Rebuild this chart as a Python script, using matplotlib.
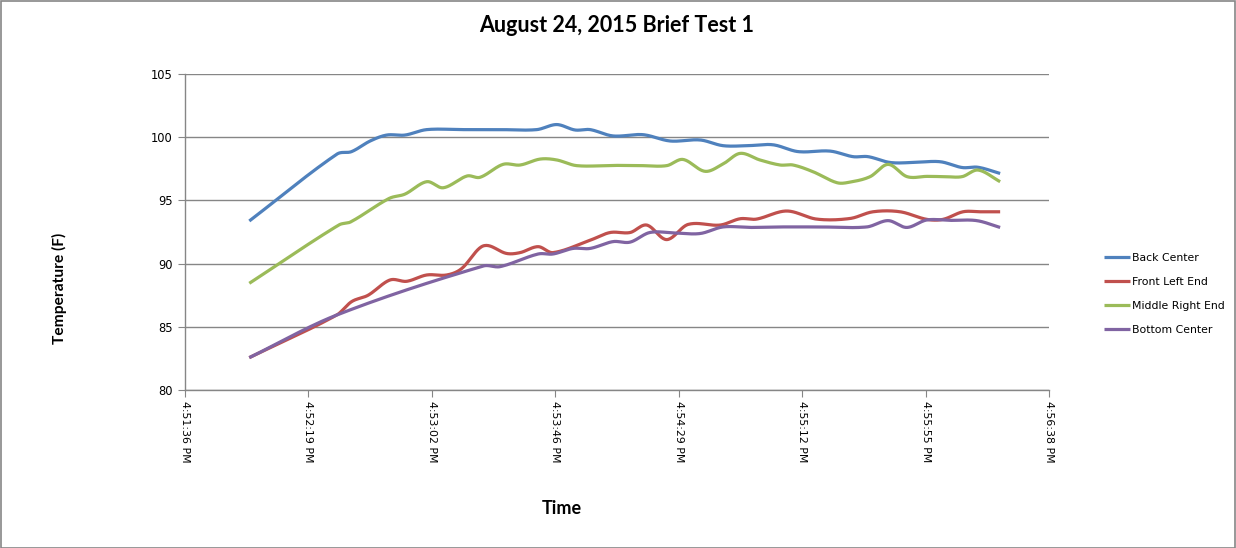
import numpy as np
import matplotlib
matplotlib.use("Agg")
import matplotlib.pyplot as plt
from matplotlib.patches import Rectangle

# times are seconds after 4:51:36 PM, temperatures in F
back_t = [22.5, 53.1, 58.3, 64.8, 70.6, 77.0, 84.6, 97.0, 110.3, 123.1, 130.1, 136.5, 141.8,
          149.8, 160.3, 169.8, 180.3, 188.3, 197.0, 205.8, 214.6, 225.8, 233.8, 239.1,
          246.8, 255.0, 264.3, 272.0, 277.6, 285.3]
back_v = [93.37, 98.65, 98.86, 99.70, 100.17, 100.17, 100.60, 100.60, 100.60, 100.60, 101.00,
          100.57, 100.60, 100.10, 100.20, 99.70, 99.78, 99.33, 99.33, 99.40, 98.86, 98.90,
          98.46, 98.46, 98.00, 98.00, 98.06, 97.60, 97.62, 97.13]

front_t = [22.5, 53.1, 58.3, 64.1, 71.7, 77.6, 84.6, 91.6, 96.8, 104.4, 112.6, 117.3, 123.6,
           128.8, 141.8, 148.8, 155.8, 161.6, 168.6, 176.1, 187.3, 194.3, 200.0, 210.6,
           221.1, 232.8, 240.8, 250.3, 259.6, 265.3, 272.3, 278.3, 285.3]
front_v = [82.56, 85.93, 86.99, 87.50, 88.70, 88.60, 89.10, 89.10, 89.60, 91.40, 90.80, 90.87,
           91.34, 90.87, 91.85, 92.46, 92.46, 93.05, 91.90, 93.10, 93.05, 93.55, 93.52, 94.16,
           93.52, 93.57, 94.10, 94.10, 93.50, 93.50, 94.10, 94.10, 94.10]

middle_t = [22.5, 53.8, 58.0, 71.4, 77.0, 84.6, 90.4, 98.7, 103.3, 111.3, 117.3, 124.3, 130.1,
            137.1, 150.0, 160.0, 168.6, 174.3, 182.0, 188.3, 194.3, 201.2, 208.3, 212.8,
            219.8, 228.2, 232.8, 239.8, 246.1, 252.7, 259.7, 266.0, 272.0, 277.6, 285.3]
middle_v = [88.44, 93.05, 93.30, 95.15, 95.50, 96.48, 96.00, 96.93, 96.83, 97.85, 97.80, 98.27,
            98.20, 97.75, 97.77, 97.75, 97.75, 98.24, 97.30, 97.88, 98.72, 98.20, 97.80, 97.80,
            97.27, 96.40, 96.45, 96.88, 97.85, 96.88, 96.90, 96.88, 96.88, 97.40, 96.48]

bottom_t = [22.5, 53.1, 104.4, 110.3, 123.6, 128.8, 135.8, 141.8, 149.8, 155.8, 162.7, 171.5,
            180.3, 188.3, 197.8, 208.3, 222.3, 238.6, 246.1, 252.6, 259.6, 267.8, 277.1, 285.3]
bottom_v = [82.56, 85.93, 89.81, 89.76, 90.76, 90.76, 91.20, 91.20, 91.74, 91.70, 92.46, 92.42,
            92.38, 92.90, 92.86, 92.90, 92.90, 92.90, 93.40, 92.86, 93.45, 93.42, 93.40, 92.86]

series = [("Back Center", back_t, back_v, "#4F81BD"),
          ("Front Left End", front_t, front_v, "#C0504D"),
          ("Middle Right End", middle_t, middle_v, "#9BBB59"),
          ("Bottom Center", bottom_t, bottom_v, "#8064A2")]

START = 16 * 3600 + 51 * 60 + 36


def smooth(xs, ys, n=24):
    # smoothed line like Excel's: cubic hermite with catmull-rom slopes
    x = np.asarray(xs, float)
    y = np.asarray(ys, float)
    m = np.empty_like(y)
    m[1:-1] = (y[2:] - y[:-2]) / (x[2:] - x[:-2])
    m[0] = (y[1] - y[0]) / (x[1] - x[0])
    m[-1] = (y[-1] - y[-2]) / (x[-1] - x[-2])
    px, py = [x[0]], [y[0]]
    for i in range(len(x) - 1):
        h = x[i + 1] - x[i]
        s = np.linspace(0, 1, n)[1:]
        h00 = 2 * s ** 3 - 3 * s ** 2 + 1
        h10 = s ** 3 - 2 * s ** 2 + s
        h01 = -2 * s ** 3 + 3 * s ** 2
        h11 = s ** 3 - s ** 2
        px.extend(x[i] + s * h)
        py.extend(h00 * y[i] + h10 * h * m[i] + h01 * y[i + 1] + h11 * h * m[i + 1])
    return np.array(px), np.array(py)


def time_label(sec):
    total = int(round(START + sec))
    h, m, s = total // 3600, (total // 60) % 60, total % 60
    return f"{h % 12 or 12}:{m:02d}:{s:02d} {'PM' if h >= 12 else 'AM'}"


plt.rcParams['font.family'] = ['DejaVu Sans']
fig = plt.figure(figsize=(12.36, 5.48), dpi=100)
ax = fig.add_axes([185 / 1236, 1 - 390 / 548, 864 / 1236, 316 / 548])

for name, ts, vs, col in series:
    sx, sy = smooth(ts, vs)
    ax.plot(sx, sy, color=col, lw=2.3, label=name, solid_capstyle='butt')

grid_col = "#868686"
xt = np.arange(8) * 43.2
ax.set_xlim(0, 302.4)
ax.set_ylim(80, 105)
ax.set_xticks(xt)
ax.set_xticklabels([time_label(t) for t in xt], rotation=270, fontsize=7.9)
ax.set_yticks(np.arange(80, 106, 5))
ax.tick_params(axis='y', labelsize=8.3, length=5, color=grid_col, pad=4)
ax.tick_params(axis='x', length=5, color=grid_col, pad=3)
ax.yaxis.grid(True, color=grid_col, lw=1)
ax.set_axisbelow(True)
for sp in ['top', 'right']:
    ax.spines[sp].set_visible(False)
for sp in ['left', 'bottom']:
    ax.spines[sp].set_color(grid_col)
    ax.spines[sp].set_linewidth(1)

title_font = ['Lato', 'DejaVu Sans']
fig.text(617 / 1236, 1 - 26 / 548, "August 24, 2015 Brief Test 1", ha='center', va='center',
         fontsize=15.5, fontweight='bold', family=title_font)
fig.text(59 / 1236, 1 - 288 / 548, "Temperature (F)", ha='center', va='center', rotation=90,
         fontsize=11.2, fontweight='bold', family=title_font)
fig.text(562 / 1236, 1 - 509 / 548, "Time", ha='center', va='center',
         fontsize=13, fontweight='bold', family=title_font)

ax.legend(loc='center left', bbox_to_anchor=(1099 / 1236, 1 - 294 / 548),
          bbox_transform=fig.transFigure, frameon=False, fontsize=7.8,
          handlelength=2.4, handletextpad=0.1, labelspacing=1.3, borderpad=0)

fig.patches.append(Rectangle((0.5 / 1236, 0.5 / 548), 1 - 1.5 / 1236, 1 - 1.5 / 548,
                             transform=fig.transFigure, fill=False, edgecolor=grid_col, lw=1.2))

fig.savefig("out.png", dpi=100)
